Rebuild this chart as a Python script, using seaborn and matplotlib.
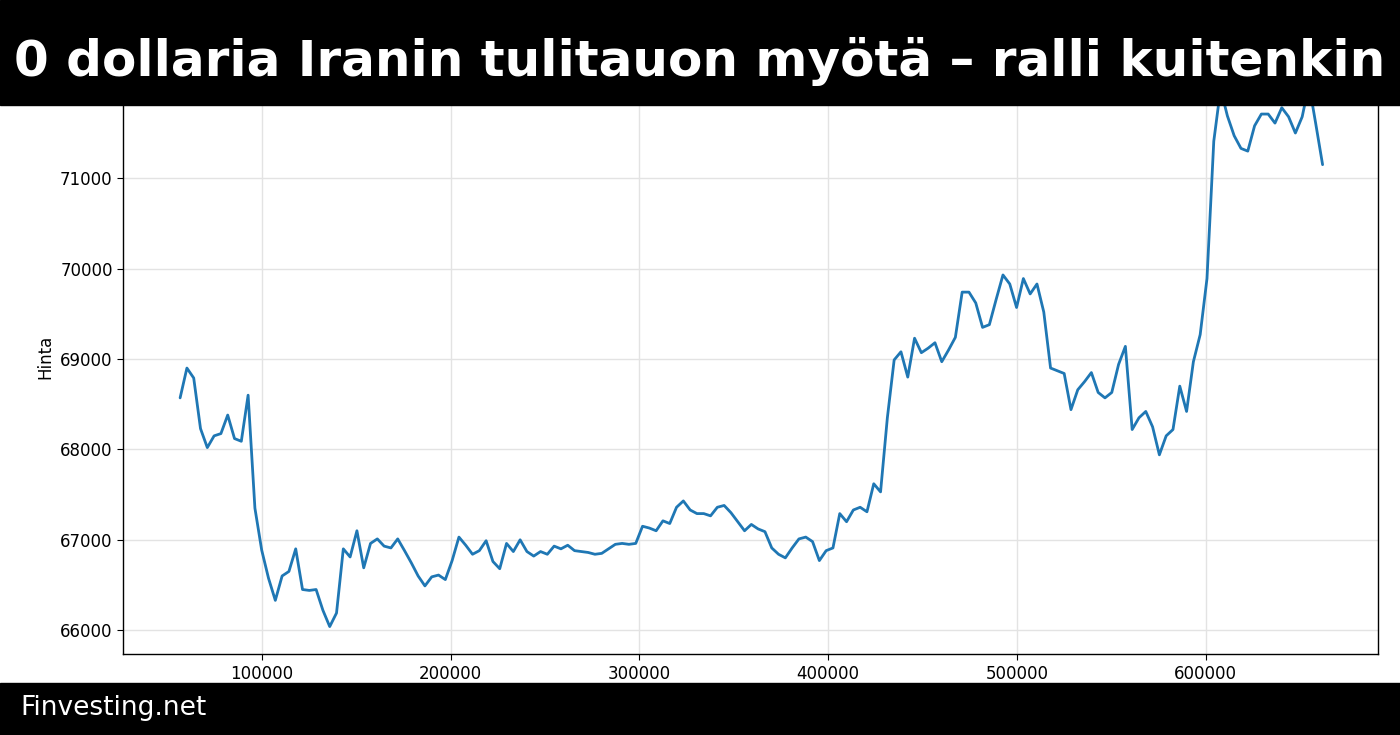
import numpy as np
import pandas as pd
import matplotlib
matplotlib.use("Agg")
import matplotlib.pyplot as plt
import seaborn as sns

sns.set_style("whitegrid")
plt.rcParams['font.family'] = ['DejaVu Sans']

# ---------------- DATA ---------------- #
title_text = "0 dollaria Iranin tulitauon myötä – ralli kuitenkin"
brand_text = "Finvesting.net"
y_label = "Hinta"

price = [
    68570, 68900, 68790, 68230, 68020, 68150, 68175, 68380, 68120, 68090,
    68600, 67350, 66885, 66575, 66330, 66600, 66650, 66900, 66450, 66440,
    66450, 66220, 66040, 66190, 66900, 66810, 67100, 66690, 66960, 67010,
    66930, 66910, 67010, 66880, 66745, 66600, 66490, 66590, 66610, 66560,
    66770, 67030, 66940, 66840, 66880, 66990, 66760, 66680, 66960, 66870,
    67000, 66870, 66820, 66870, 66840, 66930, 66900, 66940, 66880, 66870,
    66860, 66840, 66850, 66900, 66950, 66960, 66950, 66960, 67150, 67130,
    67100, 67210, 67180, 67360, 67430, 67330, 67290, 67290, 67265, 67360,
    67380, 67300, 67200, 67100, 67170, 67120, 67090, 66910, 66840, 66800,
    66910, 67010, 67030, 66980, 66770, 66880, 66910, 67290, 67200, 67330,
    67360, 67310, 67620, 67530, 68350, 68990, 69080, 68800, 69230, 69070,
    69120, 69180, 68970, 69100, 69240, 69740, 69740, 69620, 69350, 69380,
    69660, 69930, 69830, 69570, 69890, 69720, 69830, 69520, 68900, 68870,
    68840, 68440, 68660, 68750, 68850, 68630, 68570, 68630, 68940, 69140,
    68220, 68350, 68420, 68250, 67940, 68150, 68220, 68700, 68420, 68970,
    69270, 69890, 71410, 71990, 71690, 71470, 71330, 71300, 71580, 71710,
    71710, 71610, 71780, 71680, 71500, 71680, 72040, 71600, 71150,
]
# evenly spaced sample positions along the x axis
x_start, x_end = 56600, 662000
x_pos = np.linspace(x_start, x_end, len(price))

df = pd.DataFrame({"x": x_pos, "Hinta": price})

# ---------------- PLOT ---------------- #
fig = plt.figure(figsize=(14, 7.35), dpi=100)
ax = fig.add_axes([0.0879, 0.110, 0.8961, 0.808])
sns.lineplot(data=df, x="x", y="Hinta", ax=ax, color="#1f77b4", linewidth=2)

ax.set_xlim(26370, 691150)
ax.set_ylim(65735, 72305)
ax.set_xticks([100000, 200000, 300000, 400000, 500000, 600000])
ax.set_yticks([66000, 67000, 68000, 69000, 70000, 71000])
ax.tick_params(labelsize=12, length=4, color="black", labelcolor="black", left=True, bottom=True)
ax.set_xlabel("")
ax.set_ylabel(y_label, fontsize=12, color="black")
ax.grid(True, color="#e3e3e3", linewidth=1)
for s in ax.spines.values():
    s.set_color("black")
    s.set_linewidth(1)

# black banners
fig.patches.append(plt.Rectangle((0, 1 - 105 / 735), 1, 105 / 735, transform=fig.transFigure,
                                 color="black", zorder=10))
fig.patches.append(plt.Rectangle((0, 0), 1, 52 / 735, transform=fig.transFigure,
                                 color="black", zorder=10))
fig.text(0.5, 1 - 62 / 735, title_text, color="white", fontsize=36, fontweight="bold",
         ha="center", va="center", zorder=11)
fig.text(20 / 1400, 27 / 735, brand_text, color="white", fontsize=19,
         ha="left", va="center", zorder=11)

fig.savefig("out.png", dpi=100)
